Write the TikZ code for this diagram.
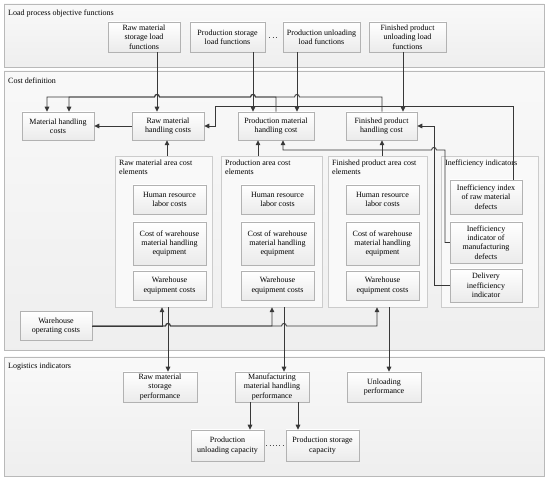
\documentclass[tikz,border=0pt]{standalone}
\usepackage{fontspec}
\setmainfont{Liberation Serif}
\usetikzlibrary{arrows.meta,shadows}
\newcommand\hopl[2]{-- ({#1+2.4},#2) .. controls ({#1+2.4},{#2-3.4}) and ({#1-2.4},{#2-3.4}) .. ({#1-2.4},#2)}
\newcommand\hopr[2]{-- ({#1-2.4},#2) .. controls ({#1-2.4},{#2-3.4}) and ({#1+2.4},{#2-3.4}) .. ({#1+2.4},#2)}
\newcommand\bfnt{\fontsize{8}{9.3}\selectfont}
\tikzset{
  panel/.style={draw=gray!55, line width=0.6pt, top color=gray!5, bottom color=gray!13, inner sep=0pt},
  cont/.style={draw=gray!40, line width=0.5pt, fill=gray!5, inner sep=0pt},
  bx/.style 2 args={draw=gray!60, line width=0.5pt, top color=white, bottom color=gray!16,
     drop shadow={opacity=0.25, shadow xshift=0.8pt, shadow yshift=-0.8pt},
     align=center, inner sep=1pt, font=\bfnt, minimum width=#1, minimum height=#2},
  ttl/.style={font=\bfnt, inner sep=0pt, align=left},
  conn/.style={draw=black!78, line width=0.9pt},
  arr/.style={conn, -{Triangle[length=5pt,width=4.6pt]}},
  dots/.style={draw=black!70, line width=0.7pt, dash pattern=on 0.7pt off 2.6pt}
}
\begin{document}
\begin{tikzpicture}[x=1pt,y=-1pt]
\useasboundingbox (0,0) rectangle (550,481);
% panels
\node[panel, minimum width=540pt, minimum height=63pt] (pA) at (274,35.5) {};
\node[panel, minimum width=540pt, minimum height=279pt] (pB) at (274,210.5) {};
\node[panel, minimum width=540pt, minimum height=119pt] (pC) at (274,416.5) {};
\node[ttl, anchor=west] (tA) at (8,13.5) {Load process objective functions};
\node[ttl, anchor=west] (tB) at (8,80.5) {Cost definition};
\node[ttl, anchor=west] (tC) at (8,366.5) {Logistics indicators};
% top boxes
\node[bx={72}{30}] (lf1) at (144,37) {Raw material\\storage load\\functions};
\node[bx={75}{30}] (lf2) at (227.5,37) {Production storage\\load functions};
\node[bx={77}{30}] (lf3) at (321.5,37) {Production unloading\\load functions};
\node[bx={77}{30}] (lf4) at (407.5,37) {Finished product\\unloading load\\functions};
% cost boxes
\node[bx={72}{28}] (mhc) at (58,126) {Material handling\\costs};
\node[bx={72}{28}] (rmh) at (168,126) {Raw material\\handling costs};
\node[bx={76}{28}] (pmh) at (276,126) {Production material\\handling cost};
\node[bx={71}{28}] (fph) at (381.5,126) {Finished product\\handling cost};
% containers
\node[cont, minimum width=97pt, minimum height=151pt] (c1) at (163.5,231.5) {};
\node[cont, minimum width=101pt, minimum height=151pt] (c2) at (271.5,231.5) {};
\node[cont, minimum width=99pt, minimum height=151pt] (c3) at (377.5,231.5) {};
\node[cont, minimum width=97pt, minimum height=151pt] (c4) at (489.5,231.5) {};
\node[ttl, anchor=north west] (tc1) at (119,159.5) {Raw material area cost\\elements};
\node[ttl, anchor=north west] (tc2) at (225,159.5) {Production area cost\\elements};
\node[ttl, anchor=north west] (tc3) at (332,159.5) {Finished product area cost\\elements};
\node[ttl, anchor=north west] (tc4) at (445,159.5) {Inefficiency indicators};
% inner boxes
\node[bx={73}{29}] (h1) at (169.5,199.5) {Human resource\\labor costs};
\node[bx={73}{43}] (e1) at (169.5,243.5) {Cost of warehouse\\material handling\\equipment};
\node[bx={73}{29}] (w1) at (169.5,285.5) {Warehouse\\equipment costs};
\node[bx={73}{29}] (h2) at (277.5,199.5) {Human resource\\labor costs};
\node[bx={73}{43}] (e2) at (277.5,243.5) {Cost of warehouse\\material handling\\equipment};
\node[bx={73}{29}] (w2) at (277.5,285.5) {Warehouse\\equipment costs};
\node[bx={73}{29}] (h3) at (382.5,199.5) {Human resource\\labor costs};
\node[bx={73}{43}] (e3) at (382.5,243.5) {Cost of warehouse\\material handling\\equipment};
\node[bx={73}{29}] (w3) at (382.5,285.5) {Warehouse\\equipment costs};
\node[bx={72}{34}] (ii1) at (486,197) {Inefficiency index\\of raw material\\defects};
\node[bx={72}{41}] (ii2) at (486,242.5) {Inefficiency\\indicator of\\manufacturing\\defects};
\node[bx={72}{33}] (ii3) at (486,285.5) {Delivery\\inefficiency\\indicator};
\node[bx={72}{29}] (wo) at (56,326) {Warehouse\\operating costs};
% logistics
\node[bx={74}{30}] (rsp) at (160,387) {Raw material\\storage\\performance};
\node[bx={74}{30}] (mmhp) at (272,387) {Manufacturing\\material handling\\performance};
\node[bx={74}{30}] (upf) at (384,387) {Unloading\\performance};
\node[bx={73}{31}] (puc) at (227.5,445.5) {Production\\unloading capacity};
\node[bx={73}{31}] (psc) at (322.5,445.5) {Production storage\\capacity};
% connectors: top
\draw[arr] (157,0 |- lf1.south) -- (157,0 |- rmh.north);
\draw[arr] (253,0 |- lf2.south) -- (253,0 |- pmh.north);
\draw[arr] (297,0 |- lf3.south) -- (297,0 |- pmh.north);
\draw[arr] (403,0 |- lf4.south) -- (403,0 |- fph.north);
\draw[dots] ([xshift=4pt]lf2.east) -- ([xshift=-4pt]lf3.west);
% bus to material handling costs
\draw[arr] (pmh.north) -- (276,97) \hopl{253}{97} \hopl{157}{97} -- (69,97) -- (69,0 |- mhc.north);
\draw[arr] (382,0 |- fph.north) -- (382,97) \hopl{297}{97} \hopl{253}{97} \hopl{157}{97} -- (47,97) -- (47,0 |- mhc.north);
\draw[arr] (rmh.west) -- (mhc.east);
% inefficiency connectors
\draw[arr] (513,0 |- ii1.north) -- (513,106) -- (215,106) -- (215,126) -- (rmh.east);
\draw[arr] (ii2.west) -- (445,242.5) -- (445,150) \hopl{434}{150} -- (283,150) -- (283,0 |- pmh.south);
\draw[arr] (ii3.west) -- (434,285.5) -- (434,126) -- (fph.east);
% containers to handling costs
\draw[arr] (167,0 |- c1.north) -- (167,0 |- rmh.south);
\draw[arr] (258,0 |- c2.north) -- (258,0 |- pmh.south);
\draw[arr] (382,0 |- c3.north) -- (382,0 |- fph.south);
% warehouse operating costs
\draw[arr] (wo.east) -| (162,0 |- c1.south);
\draw[arr] (wo.east) \hopr{168}{326} -| (272,0 |- c2.south);
\draw[arr] (wo.east) \hopr{168}{326} \hopr{284}{326} -| (377,0 |- c3.south);
% containers to logistics
\draw[arr] (168,0 |- c1.south) -- (168,0 |- rsp.north);
\draw[arr] (284,0 |- c2.south) -- (284,0 |- mmhp.north);
\draw[arr] (389,0 |- c3.south) -- (389,0 |- upf.north);
\draw[arr] (250,0 |- mmhp.south) -- (250,0 |- puc.north);
\draw[arr] (298,0 |- mmhp.south) -- (298,0 |- psc.north);
\draw[dots] ([xshift=2pt]puc.east) -- ([xshift=-2pt]psc.west);
\end{tikzpicture}
\end{document}
